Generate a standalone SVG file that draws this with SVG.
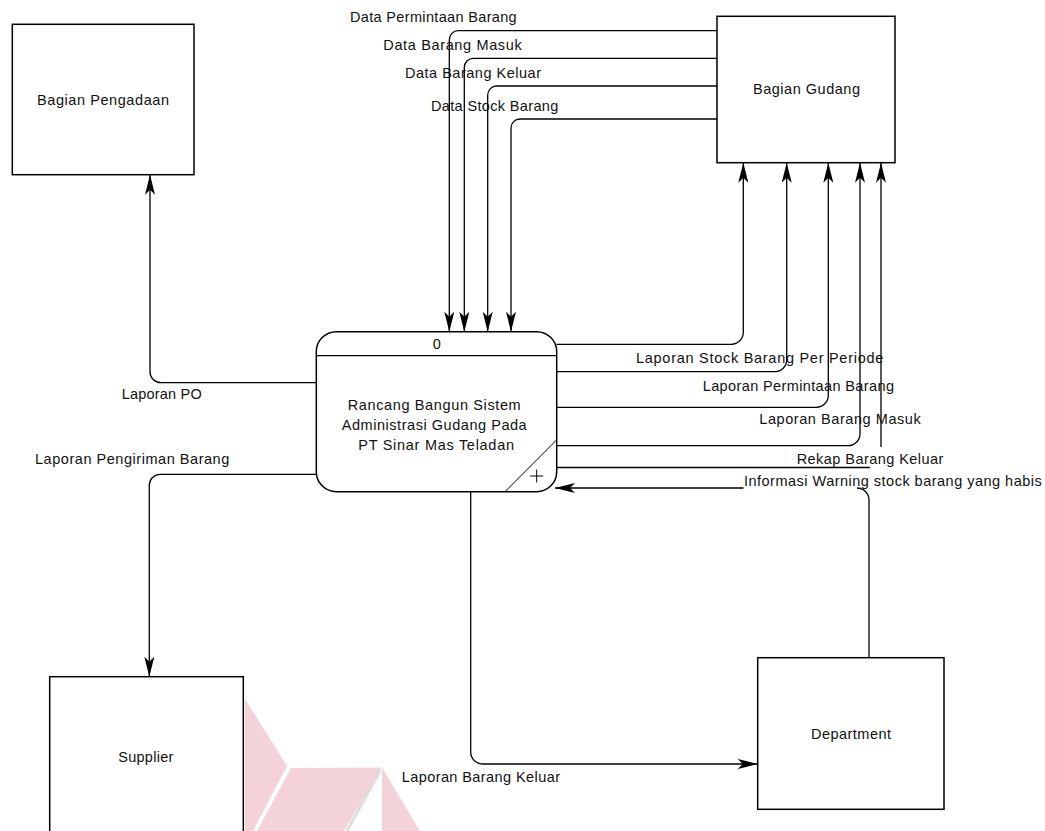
<svg xmlns="http://www.w3.org/2000/svg" width="1045" height="831" viewBox="0 0 1045 831">
<style>
  .box { fill: #fff; stroke: #000; stroke-width: 1.5; }
  .line { fill: none; stroke: #000; stroke-width: 1.3; }
  .thin { fill: none; stroke: #000; stroke-width: 1; }
  text { font-family: "Liberation Sans", Arial, sans-serif; font-size: 14.5px; fill: #111; }
  .wm { fill: #f3d3d8; }
</style>
<defs>
  <marker id="arrow" markerUnits="userSpaceOnUse" markerWidth="20" markerHeight="10" viewBox="0 0 20 10" refX="20" refY="5" orient="auto">
    <path d="M0,0 L20,5 L0,10 L5,5 Z" fill="#000"/>
  </marker>
</defs>

<g id="watermark">
  <polygon class="wm" points="245,699 287,766 253,831 245,831"/>
  <polygon class="wm" points="291,768 381.5,767.5 344,831 257,831"/>
  <polygon class="wm" points="382,767.5 420,831 382,831"/>
  <line x1="380" y1="771" x2="347" y2="831" stroke="#dedede" stroke-width="3"/>
</g>

<g id="node-pengadaan">
  <rect class="box" x="12.3" y="24.3" width="181.7" height="150.4"/>
  <text x="37" y="105" textLength="132" lengthAdjust="spacing">Bagian Pengadaan</text>
</g>

<g id="node-gudang">
  <rect class="box" x="717" y="16.3" width="178" height="146.4"/>
  <text x="753" y="94" textLength="107" lengthAdjust="spacing">Bagian Gudang</text>
</g>

<g id="node-process">
  <rect class="box" x="316.3" y="331.7" width="240.4" height="160" rx="20" ry="20"/>
  <line class="line" x1="316.3" y1="355.7" x2="556.7" y2="355.7"/>
  <text x="436.7" y="349" text-anchor="middle">0</text>
  <text x="347.7" y="410" textLength="173" lengthAdjust="spacing">Rancang Bangun Sistem</text>
  <text x="341.7" y="430" textLength="185" lengthAdjust="spacing">Administrasi Gudang Pada</text>
  <text x="358.3" y="450" textLength="155.7" lengthAdjust="spacing">PT Sinar Mas Teladan</text>
  <line class="thin" x1="505" y1="491.7" x2="556.5" y2="440"/>
  <path class="thin" d="M530.2,476 H543.2 M536.7,469.5 V482.5"/>
</g>

<g id="node-supplier">
  <rect class="box" x="49.7" y="676.7" width="193.6" height="170"/>
  <text x="118.3" y="761.5" textLength="55" lengthAdjust="spacing">Supplier</text>
</g>

<g id="node-department">
  <rect class="box" x="757.7" y="657.7" width="186.3" height="151.6"/>
  <text x="811" y="739.3" textLength="80" lengthAdjust="spacing">Department</text>
</g>

<g id="connectors">
  <path class="line" marker-end="url(#arrow)" d="M717,30.7 H458.3 A9 9 0 0 0 449.3,39.7 V331.7"/>
  <path class="line" marker-end="url(#arrow)" d="M717,58.3 H473.3 A9 9 0 0 0 464.3,67.3 V331.7"/>
  <path class="line" marker-end="url(#arrow)" d="M717,86 H496.7 A9 9 0 0 0 487.7,95 V331.7"/>
  <path class="line" marker-end="url(#arrow)" d="M717,119 H520 A9 9 0 0 0 511,128 V331.7"/>

  <path class="line" marker-end="url(#arrow)" d="M556.5,344.3 H731.3 A12 12 0 0 0 743.3,332.3 V162.7"/>
  <path class="line" marker-end="url(#arrow)" d="M556.5,371.7 H774.7 A12 12 0 0 0 786.7,359.7 V162.7"/>
  <path class="line" marker-end="url(#arrow)" d="M556.5,407.3 H816.3 A12 12 0 0 0 828.3,395.3 V162.7"/>
  <path class="line" marker-end="url(#arrow)" d="M556.5,445.7 H848 A12 12 0 0 0 860,433.7 V162.7"/>
  <path class="line" marker-end="url(#arrow)" d="M556.5,467.5 H870 M881,447 V162.7"/>

  <path class="line" marker-end="url(#arrow)" d="M869,657.7 V500 A12 12 0 0 0 857,488 M743.5,488 H555"/>

  <path class="line" marker-end="url(#arrow)" d="M316.3,382.7 H161 A11 11 0 0 1 150,371.7 V174.7"/>
  <path class="line" marker-end="url(#arrow)" d="M316.3,474.3 H160.3 A11 11 0 0 0 149.3,485.3 V676.7"/>
  <path class="line" marker-end="url(#arrow)" d="M470.7,491.7 V752 A12 12 0 0 0 482.7,764 H757.7"/>
</g>

<g id="connector-labels">
  <text x="350" y="22" textLength="166.7" lengthAdjust="spacing">Data Permintaan Barang</text>
  <text x="383.3" y="49.5" textLength="138.4" lengthAdjust="spacing">Data Barang Masuk</text>
  <text x="405" y="77.5" textLength="136" lengthAdjust="spacing">Data Barang Keluar</text>
  <text x="431" y="110.5" textLength="127.3" lengthAdjust="spacing">Data Stock Barang</text>
  <text x="636" y="362.5" textLength="247.3" lengthAdjust="spacing">Laporan Stock Barang Per Periode</text>
  <text x="702.7" y="390.5" textLength="191.3" lengthAdjust="spacing">Laporan Permintaan Barang</text>
  <text x="759.3" y="424.3" textLength="161.4" lengthAdjust="spacing">Laporan Barang Masuk</text>
  <text x="796.7" y="464" textLength="146.6" lengthAdjust="spacing">Rekap Barang Keluar</text>
  <text x="744" y="485.5" textLength="297.7" lengthAdjust="spacing">Informasi Warning stock barang yang habis</text>
  <text x="121.7" y="399.3" textLength="80" lengthAdjust="spacing">Laporan PO</text>
  <text x="35" y="464" textLength="194.3" lengthAdjust="spacing">Laporan Pengiriman Barang</text>
  <text x="401.7" y="781.7" textLength="158.3" lengthAdjust="spacing">Laporan Barang Keluar</text>
</g>
</svg>
